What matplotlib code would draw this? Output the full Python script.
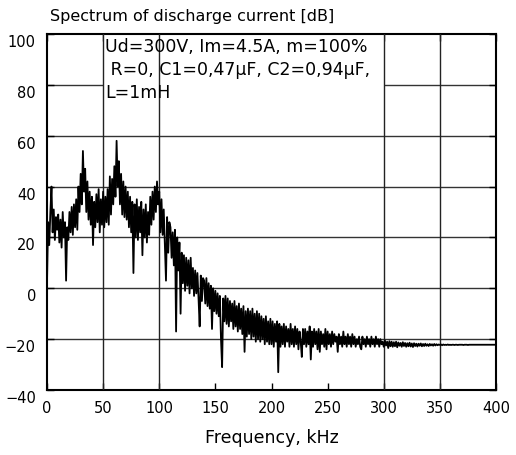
import numpy as np
import matplotlib
matplotlib.use("Agg")
import matplotlib.pyplot as plt
from matplotlib.transforms import ScaledTranslation

plt.rcParams['font.family'] = ['DejaVu Sans']

# spectrum values [dB], one point per kHz (0..400 kHz)
spectrum_db = [
    2, 26, 17, 30, 40, 22, 31, 19, 28, 23,
    29, 18, 27, 16, 30, 20, 26, 3, 24, 19,
    30, 22, 32, 21, 33, 24, 35, 23, 40, 30,
    45, 33, 54, 38, 47, 30, 42, 27, 38, 25,
    36, 17, 34, 24, 37, 26, 39, 22, 35, 25,
    38, 24, 36, 26, 39, 25, 44, 29, 43, 33,
    48, 36, 58, 40, 50, 33, 45, 29, 42, 28,
    40, 27, 38, 24, 36, 22, 34, 6, 33, 20,
    35, 19, 32, 22, 34, 13, 31, 20, 33, 18,
    30, 21, 36, 25, 38, 27, 40, 30, 42, 33,
    38, 22, 35, 21, 31, 17, 3, 28, 14, 26,
    24, 12, 22, 9, 23, -17, 20, 7, 18, -10,
    14, 2, 13, -1, 12, 1, 11, -2, 12, 0,
    8, -3, 7, -2, 6, -4, -15, 5, -5, 4,
    3, -6, 4, -7, 2, -8, 1, -16, 0, -9,
    -1, -10, -2, -11, -3, -20, -31, -4, -13, -3,
    -14, -4, -15, -5, -13, -6, -16, -5, -15, -7,
    -17, -6, -16, -8, -18, -7, -25, -9, -19, -8,
    -18, -9, -20, -8, -19, -10, -21, -9, -20, -10,
    -21, -11, -20, -12, -22, -11, -21, -13, -22, -12,
    -22, -13, -23, -14, -21, -13, -33, -14, -23, -15,
    -22, -14, -23, -15, -21, -16, -23, -14, -22, -16,
    -23, -15, -22, -16, -24, -17, -21, -27, -16, -22,
    -16, -23, -17, -22, -15, -28, -17, -23, -16, -22,
    -17, -24, -16, -25, -17, -22, -18, -23, -16, -24,
    -17, -22, -18, -23, -17, -22, -18, -21, -19, -25,
    -18, -22, -19, -23, -17, -22, -19, -23, -18, -22,
    -19, -23, -18, -22, -19, -23, -20, -22, -19, -23,
    -24, -19, -22, -20, -23, -19, -22, -20, -23, -19,
    -22, -20, -23, -19, -22, -20, -23, -20, -22, -21,
    -23, -20.5, -22.5, -21, -23.5, -20.8, -22.8, -21, -23, -21.2,
    -22.8, -21, -23.2, -21.3, -22.6, -21.5, -23, -21.2, -22.7, -21.5,
    -23, -21.6, -22.8, -21.4, -22.9, -21.7, -23.1, -21.6, -22.7, -21.8,
    -22.9, -21.8, -22.6, -21.7, -22.8, -21.9, -22.7, -21.8, -22.6, -22,
    -22.7, -21.9, -22.5, -22, -22.6, -21.9, -22.5, -22.0, -22.4, -22.1,
    -22.3, -22.1, -22.4, -22.1, -22.3, -22.2, -22.3, -22.1, -22.3, -22.2,
    -22.3, -22.2, -22.2, -22.3, -22.2, -22.2, -22.3, -22.2, -22.2, -22.2,
    -22.2, -22.3, -22.2, -22.2, -22.2, -22.3, -22.2, -22.2, -22.2, -22.2,
    -22.2, -22.2, -22.2, -22.2, -22.2, -22.2, -22.2, -22.2, -22.2, -22.2,
    -22.2, -22.2, -22.2, -22.2, -22.2, -22.2, -22.2, -22.2, -22.2, -22.2,
    -22.2,
]
freq_khz = np.arange(len(spectrum_db))

x_ticks = [0, 50, 100, 150, 200, 250, 300, 350, 400]
y_ticks = [-40, -20, 0, 20, 40, 60, 80, 100]
x_grid = [50, 100, 300, 350]
y_grid = [-20, 0, 20, 40, 60, 80]

title = "Spectrum of discharge current [dB]"
note = "Ud=300V, Im=4.5A, m=100%\n R=0, C1=0,47\u03bcF, C2=0,94\u03bcF,\nL=1mH"

fig = plt.figure(figsize=(5.16, 4.55), dpi=100)
ax = fig.add_axes([47 / 516, 1 - 390 / 455, 449 / 516, 356 / 455])

ax.set_xlim(0, 400)
ax.set_ylim(-40, 100)

for y in y_grid:
    ax.axhline(y, color="#333333", lw=1.0, zorder=1)
# white box behind the note hides the horizontal grid there
ax.axvspan(50, 300, ymin=(72 - (-40)) / 140, ymax=1, color="white", zorder=2, lw=0)
for x in x_grid:
    ax.axvline(x, color="#222222", lw=1.0, zorder=3)

ax.plot(freq_khz, spectrum_db, color="black", lw=1.3, zorder=4)

ax.text(52, 98.5, note, fontsize=12.5, va="top", ha="left", linespacing=1.38, zorder=5)

ax.set_xticks(x_ticks)
ax.set_yticks(y_ticks)
ax.tick_params(direction="in", length=5, width=1, top=True, right=True,
               labelsize=10.5, pad=8)
for sp in ax.spines.values():
    sp.set_linewidth(1.5)
for lab in ax.get_yticklabels():
    lab.set_transform(lab.get_transform() + ScaledTranslation(0, -0.07, fig.dpi_scale_trans))

ax.set_xlabel("Frequency, kHz", fontsize=12.5, labelpad=9)
fig.text(50 / 516, 1 - 17 / 455, title, fontsize=11.5, ha="left", va="center")

fig.savefig("out.png", dpi=100)
